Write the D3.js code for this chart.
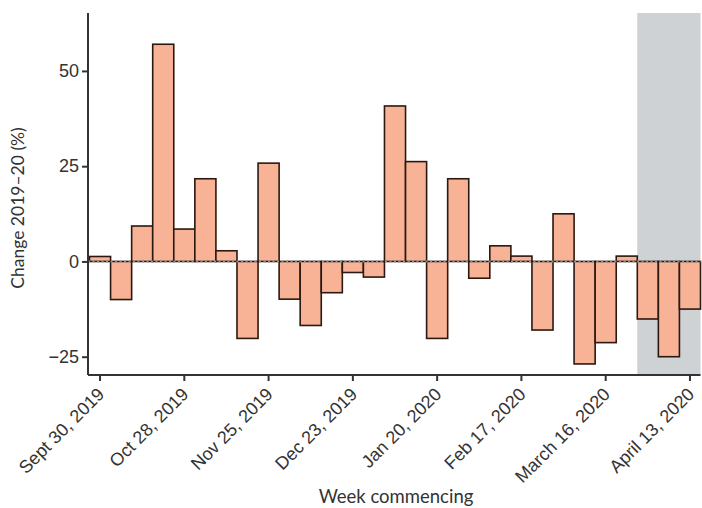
<!DOCTYPE html>
<html>
<head>
<meta charset="utf-8">
<script src="https://cdn.jsdelivr.net/npm/d3@7"></script>
<style>
  body { margin: 0; background: #fff; }
  svg { display: block; font-family: Lato, "Noto Sans", sans-serif; }
</style>
</head>
<body>
<svg width="702" height="508"></svg>
<script>
var weeks = ["Sept 30, 2019", "Oct 7, 2019", "Oct 14, 2019", "Oct 21, 2019", "Oct 28, 2019",
  "Nov 4, 2019", "Nov 11, 2019", "Nov 18, 2019", "Nov 25, 2019", "Dec 2, 2019",
  "Dec 9, 2019", "Dec 16, 2019", "Dec 23, 2019", "Dec 30, 2019", "Jan 6, 2020",
  "Jan 13, 2020", "Jan 20, 2020", "Jan 27, 2020", "Feb 3, 2020", "Feb 10, 2020",
  "Feb 17, 2020", "Feb 24, 2020", "March 2, 2020", "March 9, 2020", "March 16, 2020",
  "March 23, 2020", "March 30, 2020", "April 6, 2020", "April 13, 2020"];

var change = [1.3, -10, 9.3, 57, 8.5, 21.7, 2.8, -20.2, 25.8, -9.9,
  -16.8, -8.2, -2.9, -4.1, 40.8, 26.2, -20.2, 21.7, -4.4, 4.1,
  1.4, -18, 12.5, -26.9, -21.3, 1.4, -15.1, -25, -12.5];

var tickWeeks = ["Sept 30, 2019", "Oct 28, 2019", "Nov 25, 2019", "Dec 23, 2019",
  "Jan 20, 2020", "Feb 17, 2020", "March 16, 2020", "April 13, 2020"];
var yTicks = [-25, 0, 25, 50];
var shadedFrom = "March 30, 2020";

var svg = d3.select("svg");
var axisX = 88, plotTop = 13, plotBottom = 375, plotRight = 700.5;

var x = d3.scaleBand().domain(weeks).range([89.5, plotRight]).padding(0);
var y = d3.scaleLinear().domain([-29.8, 65.2]).range([plotBottom, plotTop]);

// shaded period
svg.append("rect")
  .attr("x", x(shadedFrom))
  .attr("y", plotTop)
  .attr("width", plotRight - x(shadedFrom))
  .attr("height", plotBottom - plotTop)
  .attr("fill", "#ced2d4");

var data = weeks.map(function(w, i) { return {week: w, value: change[i]}; });

svg.selectAll(".bar").data(data).enter().append("rect")
  .attr("class", "bar")
  .attr("x", function(d) { return x(d.week); })
  .attr("width", x.bandwidth())
  .attr("y", function(d) { return y(Math.max(0, d.value)); })
  .attr("height", function(d) { return Math.abs(y(d.value) - y(0)); })
  .attr("fill", "#f8b397")
  .attr("stroke", "#2b1810")
  .attr("stroke-width", 1.6);

// zero reference line
svg.append("line")
  .attr("x1", axisX).attr("x2", plotRight)
  .attr("y1", y(0)).attr("y2", y(0))
  .attr("stroke", "#8f9294")
  .attr("stroke-width", 2)
  .attr("stroke-dasharray", "2,2.5");

// y axis
var yAxis = svg.append("g")
  .attr("transform", "translate(" + axisX + ",0)")
  .call(d3.axisLeft(y).tickValues(yTicks).tickSize(6).tickPadding(3).tickFormat(function(d) { return d < 0 ? "\u2212" + Math.abs(d) : d; }));
yAxis.select(".domain").attr("d", "M0," + plotTop + "V" + plotBottom);

// x axis
var xAxis = svg.append("g")
  .attr("transform", "translate(0," + plotBottom + ")")
  .call(d3.axisBottom(x).tickValues(tickWeeks).tickSize(6).tickPadding(3));
xAxis.select(".domain").attr("d", "M" + axisX + ",0H" + plotRight);

svg.selectAll(".domain, .tick line").attr("stroke", "#333").attr("stroke-width", 2);
svg.selectAll(".tick text").attr("fill", "#333").style("font-size", "18px");

xAxis.selectAll("text")
  .attr("text-anchor", "end")
  .attr("dy", "0")
  .attr("transform", "translate(-1,14) rotate(-45)");

svg.append("text")
  .attr("x", 396).attr("y", 503)
  .attr("text-anchor", "middle")
  .attr("fill", "#333")
  .style("font-size", "18.5px")
  .text("Week commencing");

svg.append("text")
  .attr("transform", "translate(24,208) rotate(-90)")
  .attr("text-anchor", "middle")
  .attr("fill", "#333")
  .style("font-size", "17.5px")
  .text("Change 2019\u201320 (%)");
</script>
</body>
</html>
